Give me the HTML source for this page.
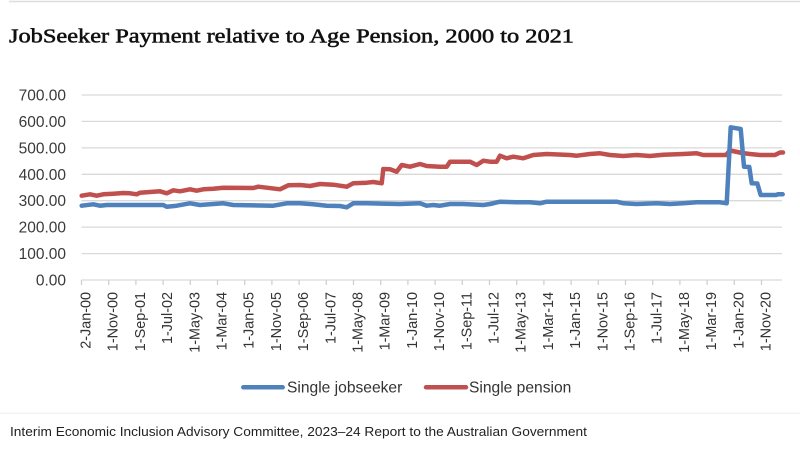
<!DOCTYPE html>
<html>
<head>
<meta charset="utf-8">
<style>
html,body{margin:0;padding:0;background:#fff;}
svg{display:block;}
</style>
</head>
<body>
<svg width="800" height="455" viewBox="0 0 800 455" xmlns="http://www.w3.org/2000/svg">
<rect width="800" height="455" fill="#fff"/>
<line x1="9" y1="1.5" x2="800" y2="1.5" stroke="#dedede" stroke-width="1.5"/>
<text x="9" y="42.7" font-family="Liberation Serif, serif" font-size="20.5" fill="#111" stroke="#111" stroke-width="0.55" textLength="565" lengthAdjust="spacingAndGlyphs">JobSeeker Payment relative to Age Pension, 2000 to 2021</text>

<g stroke="#d9d9d9" stroke-width="1.3">
<line x1="81.5" y1="95" x2="782" y2="95"/>
<line x1="81.5" y1="121.4" x2="782" y2="121.4"/>
<line x1="81.5" y1="147.9" x2="782" y2="147.9"/>
<line x1="81.5" y1="174.3" x2="782" y2="174.3"/>
<line x1="81.5" y1="200.7" x2="782" y2="200.7"/>
<line x1="81.5" y1="227.1" x2="782" y2="227.1"/>
<line x1="81.5" y1="253.6" x2="782" y2="253.6"/>
<line x1="81.5" y1="280" x2="782" y2="280"/>
</g>

<g font-family="Liberation Sans, sans-serif" font-size="15.5" fill="#3a3a3a" text-anchor="end">
<text x="66" y="100.5">700.00</text>
<text x="66" y="126.9">600.00</text>
<text x="66" y="153.4">500.00</text>
<text x="66" y="179.8">400.00</text>
<text x="66" y="206.2">300.00</text>
<text x="66" y="232.6">200.00</text>
<text x="66" y="259.1">100.00</text>
<text x="66" y="285.5">0.00</text>
</g>

<g stroke="#d0d0d0" stroke-width="1.3">
<line x1="81.5" y1="280" x2="81.5" y2="285"/>
<line x1="108.7" y1="280" x2="108.7" y2="285"/>
<line x1="135.9" y1="280" x2="135.9" y2="285"/>
<line x1="163.1" y1="280" x2="163.1" y2="285"/>
<line x1="190.3" y1="280" x2="190.3" y2="285"/>
<line x1="217.5" y1="280" x2="217.5" y2="285"/>
<line x1="244.7" y1="280" x2="244.7" y2="285"/>
<line x1="271.9" y1="280" x2="271.9" y2="285"/>
<line x1="299.1" y1="280" x2="299.1" y2="285"/>
<line x1="326.3" y1="280" x2="326.3" y2="285"/>
<line x1="353.5" y1="280" x2="353.5" y2="285"/>
<line x1="380.7" y1="280" x2="380.7" y2="285"/>
<line x1="407.9" y1="280" x2="407.9" y2="285"/>
<line x1="435.1" y1="280" x2="435.1" y2="285"/>
<line x1="462.3" y1="280" x2="462.3" y2="285"/>
<line x1="489.5" y1="280" x2="489.5" y2="285"/>
<line x1="516.7" y1="280" x2="516.7" y2="285"/>
<line x1="543.9" y1="280" x2="543.9" y2="285"/>
<line x1="571.1" y1="280" x2="571.1" y2="285"/>
<line x1="598.3" y1="280" x2="598.3" y2="285"/>
<line x1="625.5" y1="280" x2="625.5" y2="285"/>
<line x1="652.7" y1="280" x2="652.7" y2="285"/>
<line x1="679.9" y1="280" x2="679.9" y2="285"/>
<line x1="707.1" y1="280" x2="707.1" y2="285"/>
<line x1="734.3" y1="280" x2="734.3" y2="285"/>
<line x1="761.5" y1="280" x2="761.5" y2="285"/>
</g>

<g font-family="Liberation Sans, sans-serif" font-size="14.4" fill="#333" text-anchor="end">
<text transform="translate(90.5,292) rotate(-90)">2-Jan-00</text>
<text transform="translate(117.7,292) rotate(-90)">1-Nov-00</text>
<text transform="translate(144.9,292) rotate(-90)">1-Sep-01</text>
<text transform="translate(172.1,292) rotate(-90)">1-Jul-02</text>
<text transform="translate(199.3,292) rotate(-90)">1-May-03</text>
<text transform="translate(226.5,292) rotate(-90)">1-Mar-04</text>
<text transform="translate(253.7,292) rotate(-90)">1-Jan-05</text>
<text transform="translate(280.9,292) rotate(-90)">1-Nov-05</text>
<text transform="translate(308.1,292) rotate(-90)">1-Sep-06</text>
<text transform="translate(335.3,292) rotate(-90)">1-Jul-07</text>
<text transform="translate(362.5,292) rotate(-90)">1-May-08</text>
<text transform="translate(389.7,292) rotate(-90)">1-Mar-09</text>
<text transform="translate(416.9,292) rotate(-90)">1-Jan-10</text>
<text transform="translate(444.1,292) rotate(-90)">1-Nov-10</text>
<text transform="translate(471.3,292) rotate(-90)">1-Sep-11</text>
<text transform="translate(498.5,292) rotate(-90)">1-Jul-12</text>
<text transform="translate(525.7,292) rotate(-90)">1-May-13</text>
<text transform="translate(552.9,292) rotate(-90)">1-Mar-14</text>
<text transform="translate(580.1,292) rotate(-90)">1-Jan-15</text>
<text transform="translate(607.3,292) rotate(-90)">1-Nov-15</text>
<text transform="translate(634.5,292) rotate(-90)">1-Sep-16</text>
<text transform="translate(661.7,292) rotate(-90)">1-Jul-17</text>
<text transform="translate(688.9,292) rotate(-90)">1-May-18</text>
<text transform="translate(716.1,292) rotate(-90)">1-Mar-19</text>
<text transform="translate(743.3,292) rotate(-90)">1-Jan-20</text>
<text transform="translate(770.5,292) rotate(-90)">1-Nov-20</text>
</g>

<polyline fill="none" stroke="#C0504D" stroke-width="4.5" stroke-linejoin="round" stroke-linecap="round" points="81.7,195.7 90,194.3 96.7,195.7 103.3,194.3 113.3,193.7 123.3,193 130,193.3 136.7,194.3 140,192.7 150,192 160,191.3 166.7,193.3 173.3,190.3 180,191.3 190,189.3 196.7,190.7 203.3,189.3 213.3,188.7 223.3,187.7 253.3,188 258.3,186.7 266.7,187.7 280,189.3 288.3,185.3 300,185 310,186 320,184 333.3,184.7 346.7,186.7 353.3,183.3 366.7,182.7 373.3,182 381.7,183.3 383.3,169 390,169.3 396.7,171.7 401.7,165 410,166.7 420,164 426.7,166 440,166.7 446.7,166.7 450,161.7 470,161.7 476.7,165 483.3,160.7 490,161.7 496.7,161.7 500,155.7 506.7,158.3 513.3,156.7 523.3,158.3 533.3,155 546.7,154 570,155 576.7,155.7 590,154 600,153.3 610,155 623.3,156 636.7,155 650,156 663.3,154.7 683.3,154 696.7,153.3 703.3,155 726,155 730,150.5 735,151.5 742,153 750,154 760,155 775,155 780,152.5 783,152.5"/>

<polyline fill="none" stroke="#4F81BD" stroke-width="4.5" stroke-linejoin="round" stroke-linecap="round" points="81.7,205.7 93.3,204.3 100,205.7 106.7,205 163.3,205 166.7,206.7 176.7,205.7 190,203.3 200,205 223.3,203.3 233.3,205 273.3,205.7 286.7,203.3 300,203.3 313.3,204.3 326.7,205.7 340,206 346.7,207.3 353.3,203.3 366.7,203.3 400,204 420,203.3 426.7,205.7 433.3,205 440,205.7 450,204 463.3,204 483.3,205 490,204 500,201.7 516.7,202.3 530,202.3 540,203.3 546.7,201.7 616.7,201.7 623.3,203.3 636.7,204 656.7,203.3 670,204 683.3,203.3 696.7,202.3 720,202.3 726.7,203.3 730.7,127.3 740.7,129 744,166.7 749.3,167 751.7,183.3 757.3,183.5 760.7,195 776,195 778,194.3 782.7,194.3"/>

<line x1="243.3" y1="387.3" x2="282.7" y2="387.3" stroke="#4F81BD" stroke-width="4.5" stroke-linecap="round"/>
<line x1="426" y1="387.3" x2="466" y2="387.3" stroke="#C0504D" stroke-width="4.5" stroke-linecap="round"/>
<g font-family="Liberation Sans, sans-serif" font-size="15.6" fill="#333">
<text x="287" y="392.5">Single jobseeker</text>
<text x="469" y="392.5">Single pension</text>
</g>

<line x1="0" y1="413.3" x2="800" y2="413.3" stroke="#eeeeee" stroke-width="1"/>
<text x="10" y="436" font-family="Liberation Sans, sans-serif" font-size="13" fill="#222" textLength="577" lengthAdjust="spacingAndGlyphs">Interim Economic Inclusion Advisory Committee, 2023–24 Report to the Australian Government</text>
</svg>
</body>
</html>
